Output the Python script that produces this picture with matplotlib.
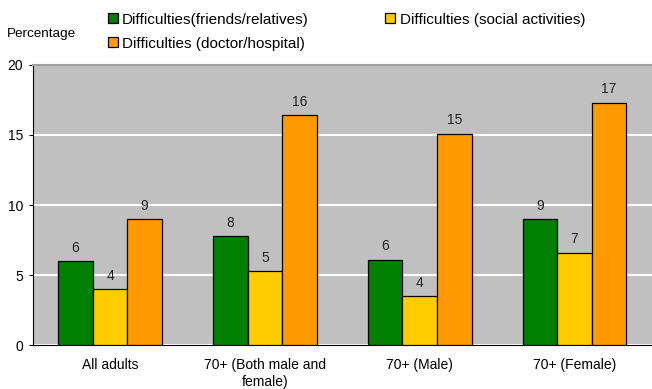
import matplotlib.pyplot as plt
import numpy as np

plt.rcParams['font.family'] = ['Liberation Sans', 'DejaVu Sans']

groups = ['All adults', '70+ (Both male and\nfemale)', '70+ (Male)', '70+ (Female)']
friends = [6.0, 7.8, 6.1, 9.0]
social = [4.0, 5.3, 3.5, 6.6]
doctor = [9.0, 16.4, 15.1, 17.3]
series_names = ['Difficulties(friends/relatives)',
                'Difficulties (social activities)',
                'Difficulties (doctor/hospital)']
colors = ['#008000', '#FFCC00', '#FF9900']

fig = plt.figure(figsize=(6.52, 3.89), dpi=100)
ax = fig.add_axes([0.05, 0.113, 0.95, 0.72])
ax.set_facecolor('#C0C0C0')

x = np.arange(len(groups))
w = 0.223
bars = []
for i, (vals, c, name) in enumerate(zip([friends, social, doctor], colors, series_names)):
    b = ax.bar(x + (i - 1) * w, vals, w, color=c, edgecolor='black',
               linewidth=0.9, label=name, zorder=3)
    bars.append(b)
    for xi, v in zip(x + (i - 1) * w, vals):
        ax.text(xi, v + 0.45, '%.0f' % v, ha='center', va='bottom',
                fontsize=10, color='#222222')

ax.set_xlim(-0.5, len(groups) - 0.5)
ax.set_ylim(0, 20)
ax.set_yticks([0, 5, 10, 15, 20])
ax.yaxis.grid(True, color='white', linewidth=1.5, zorder=1)
ax.set_axisbelow(True)
ax.set_xticks(x)
ax.set_xticklabels(groups, fontsize=10, linespacing=1.3)
ax.tick_params(axis='x', length=0, pad=9)
ax.tick_params(axis='y', labelsize=10, length=3, direction='out', pad=4)

ax.spines['right'].set_visible(False)
ax.spines['top'].set_color('#A0A0A0')
ax.spines['top'].set_linewidth(1.5)
ax.spines['left'].set_color('black')
ax.spines['bottom'].set_color('black')

fig.text(0.011, 0.913, 'Percentage', fontsize=9.7, va='center')

handles = [bars[0], bars[2], bars[1]]
labels = [series_names[0], series_names[2], series_names[1]]
fig.legend(handles, labels, ncol=2, loc='upper left', bbox_to_anchor=(0.144, 1.003),
           frameon=False, fontsize=11, handlelength=0.65, handleheight=0.65,
           handletextpad=0.3, columnspacing=5.0, labelspacing=0.65)

fig.savefig('out.png', dpi=100)
